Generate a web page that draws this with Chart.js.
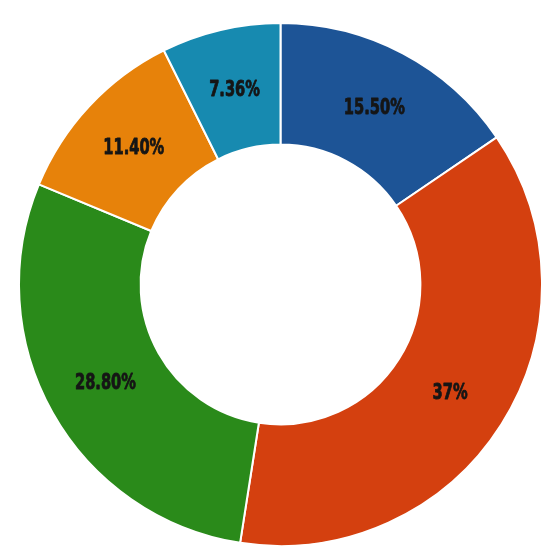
<!DOCTYPE html>
<html>
<head>
<meta charset="utf-8">
<script src="https://cdn.jsdelivr.net/npm/chart.js@4.4.1/dist/chart.umd.min.js"></script>
<style>
html,body{margin:0;padding:0;background:#ffffff;}
#wrap{width:550px;height:550px;}
</style>
</head>
<body>
<div id="wrap"><canvas id="c" width="550" height="550"></canvas></div>
<script>
const categories = ["A", "B", "C", "D", "E"];
const values = [15.50, 37, 28.80, 11.40, 7.36];
const valueLabels = ["15.50%", "37%", "28.80%", "11.40%", "7.36%"];
const colors = ["#1d5496", "#d4400f", "#2a8a1a", "#e7820a", "#178ab0"];

const labelPlugin = {
  id: 'sliceLabels',
  afterDatasetsDraw(chart) {
    const ctx = chart.ctx;
    const meta = chart.getDatasetMeta(0);
    meta.data.forEach((arc, i) => {
      const p = arc.tooltipPosition();
      ctx.save();
      ctx.translate(p.x, p.y + 1);
      ctx.scale(0.74, 1);
      ctx.font = 'bold 22px "DejaVu Sans Condensed", "DejaVu Sans", sans-serif';
      ctx.textAlign = 'center';
      ctx.textBaseline = 'middle';
      ctx.fillStyle = '#151515';
      ctx.strokeStyle = '#151515';
      ctx.lineWidth = 0.8;
      ctx.lineJoin = 'round';
      ctx.strokeText(valueLabels[i], 0, 0);
      ctx.fillText(valueLabels[i], 0, 0);
      ctx.restore();
    });
  }
};

new Chart(document.getElementById('c'), {
  type: 'doughnut',
  data: {
    labels: categories,
    datasets: [{
      data: values,
      backgroundColor: colors,
      borderColor: '#ffffff',
      borderWidth: 2
    }]
  },
  options: {
    responsive: false,
    animation: false,
    cutout: '53.5%',
    layout: { padding: { left: 18, right: 7, top: 22, bottom: 3 } },
    plugins: {
      legend: { display: false },
      tooltip: { enabled: false }
    }
  },
  plugins: [labelPlugin]
});
</script>
</body>
</html>
